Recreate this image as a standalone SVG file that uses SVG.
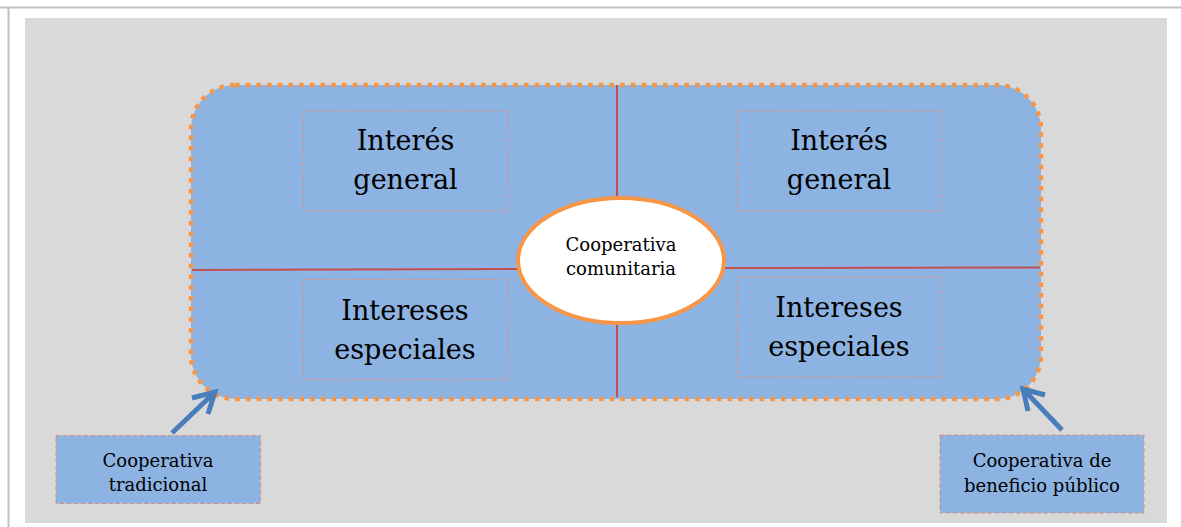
<svg xmlns="http://www.w3.org/2000/svg" width="1181" height="527" viewBox="0 0 1181 527">
<defs>
<style>
.big{font-family:"DejaVu Serif","Liberation Serif",serif;font-size:27px;fill:#000;text-anchor:middle}
.small{font-family:"DejaVu Serif","Liberation Serif",serif;font-size:18px;fill:#000;text-anchor:middle}
.inbox{fill:none;stroke:#E08D7A;stroke-width:1;stroke-dasharray:4 3}
.lbox{fill:#8DB3E2;stroke:#E08D7A;stroke-width:1;stroke-dasharray:4 3}
.red{stroke:#C0504D;stroke-width:2;fill:none}
.arrow{stroke:#4A7EBB;stroke-width:5;fill:none;stroke-linecap:butt;stroke-linejoin:miter}
</style>
</defs>
<rect width="1181" height="527" fill="#FFFFFF"/>
<line x1="0" y1="7.5" x2="1181" y2="7.5" stroke="#C0C0C0" stroke-width="2"/>
<line x1="8.5" y1="7" x2="8.5" y2="527" stroke="#C0C0C0" stroke-width="2"/>
<rect x="25" y="18" width="1142" height="505" fill="#D9D9D9"/>

<g id="main">
<rect x="191" y="85" width="850" height="314" rx="44" ry="44" fill="#8DB3E2" stroke="#F79646" stroke-width="4.5" stroke-dasharray="4.5 6.2"/>
</g>

<g id="connectors">
<line class="red" x1="617" y1="85" x2="617" y2="198"/>
<line class="red" x1="617" y1="323" x2="617" y2="397"/>
<line class="red" x1="192" y1="270" x2="518" y2="269"/>
<line class="red" x1="724" y1="268" x2="1040" y2="267.5"/>
<path class="arrow" d="M172,433 L215,392 M192,398 L215,392 L208,414"/>
<path class="arrow" d="M1062,430 L1023,389 M1045,395 L1023,389 L1028,411"/>
</g>

<g id="ig-left">
<rect class="inbox" x="303.5" y="111" width="204" height="100"/>
<text class="big" x="405.5" y="150">Interés</text>
<text class="big" x="405.5" y="189">general</text>
</g>
<g id="ig-right">
<rect class="inbox" x="737" y="111" width="204" height="100"/>
<text class="big" x="839" y="150">Interés</text>
<text class="big" x="839" y="189">general</text>
</g>
<g id="ie-left">
<rect class="inbox" x="303" y="279.5" width="204" height="100"/>
<text class="big" x="405" y="320">Intereses</text>
<text class="big" x="405" y="359">especiales</text>
</g>
<g id="ie-right">
<rect class="inbox" x="737" y="277" width="204" height="100"/>
<text class="big" x="839" y="317">Intereses</text>
<text class="big" x="839" y="356">especiales</text>
</g>

<g id="center">
<ellipse cx="621" cy="260.5" rx="103" ry="62.5" fill="#FFFFFF" stroke="#F79646" stroke-width="4"/>
<text class="small" x="621" y="251">Cooperativa</text>
<text class="small" x="621" y="275">comunitaria</text>
</g>

<g id="tradicional">
<rect class="lbox" x="56" y="435.5" width="204.5" height="68"/>
<text class="small" x="158" y="467">Cooperativa</text>
<text class="small" x="158" y="491">tradicional</text>
</g>
<g id="beneficio">
<rect class="lbox" x="940" y="435" width="204" height="78"/>
<text class="small" x="1042" y="467">Cooperativa de</text>
<text class="small" x="1042" y="492">beneficio público</text>
</g>
</svg>
